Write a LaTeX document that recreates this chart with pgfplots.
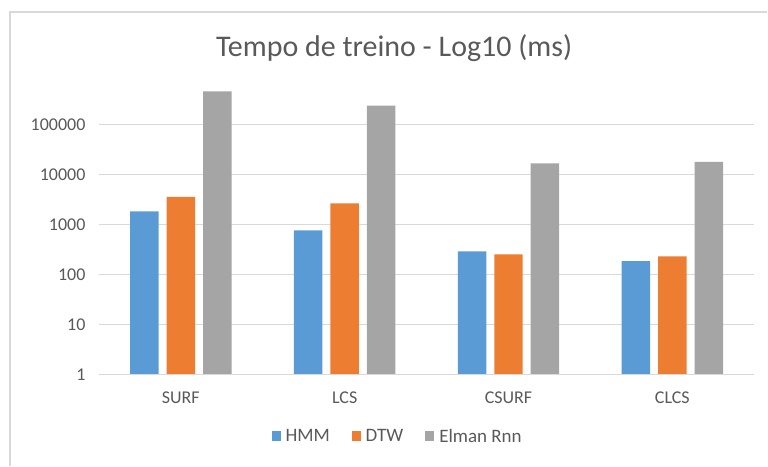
\documentclass[border=0pt]{standalone}
\usepackage{fontspec}
\setmainfont{Carlito}
\usepackage{pgfplots}
\pgfplotsset{compat=1.18}
\usetikzlibrary{calc}

\definecolor{hmm}{HTML}{5B9BD5}
\definecolor{dtw}{HTML}{ED7D31}
\definecolor{elman}{HTML}{A5A5A5}
\definecolor{txt}{HTML}{595959}
\definecolor{grd}{HTML}{D9D9D9}

\begin{document}
\begin{tikzpicture}
\begin{axis}[
  name=ax,
  at={(0pt,0pt)}, anchor=south west,
  scale only axis,
  width=656pt, height=300pt,
  ybar=8pt,
  bar width=28.5pt,
  ymode=log,
  log basis y=10,
  ymin=1, ymax=1000000,
  xmin=-0.5, xmax=3.5,
  xtick=data,
  xticklabels={SURF,LCS,CSURF,CLCS},
  ytick={1,10,100,1000,10000,100000},
  yticklabels={1,10,100,1000,10000,100000},
  axis line style={draw=none},
  ymajorgrids,
  grid style={grd,line width=1.2pt},
  major tick length=0pt,
  ticklabel style={font=\fontsize{18}{20}\selectfont,text=txt},
  yticklabel style={xshift=-10pt},
  xticklabel style={yshift=-14pt},
  legend style={at={(299pt,-62pt)},anchor=center,draw=none,fill=none,
    legend columns=3,font=\fontsize{19}{21}\selectfont,text=txt,
    /tikz/every odd column/.append style={column sep=3pt},
    /tikz/every even column/.append style={column sep=20pt}},
  legend image code/.code={\fill[#1,draw=none] (0pt,-4pt) rectangle (9pt,6pt);},
]
\addplot[fill=hmm,draw=none] coordinates {(0,1850) (1,770) (2,293) (3,188)};
\addlegendentry{HMM}
\addplot[fill=dtw,draw=none] coordinates {(0,3630) (1,2680) (2,255) (3,233)};
\addlegendentry{DTW}
\addplot[fill=elman,draw=none] coordinates {(0,470000) (1,243000) (2,16900) (3,18200)};
\addlegendentry{Elman Rnn}
\end{axis}
\draw[grd,line width=1.2pt] (ax.south west) -- ++(656pt,0pt);
\node[text=txt,font=\fontsize{30}{33}\selectfont] at (295.5pt,327pt) {Tempo de treino - Log10 (ms)};
\draw[grd,line width=1.5pt] (-89pt,-91pt) -- (-89pt,363pt) -- (669pt,363pt);
\path[use as bounding box] (-99pt,-91pt) rectangle (669pt,375pt);
\end{tikzpicture}
\end{document}
